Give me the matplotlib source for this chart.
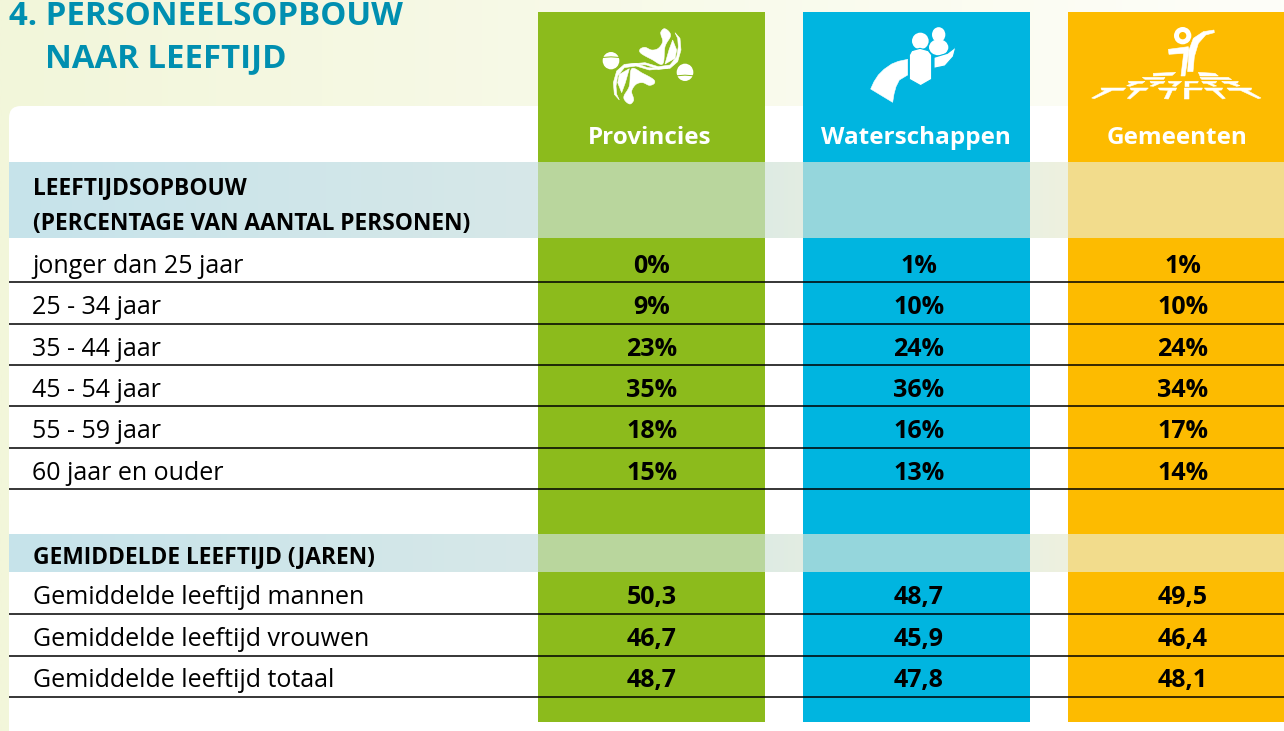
import numpy as np
import matplotlib
matplotlib.use("Agg")
import matplotlib.pyplot as plt
from matplotlib.patches import Rectangle, Polygon, Ellipse, FancyBboxPatch

title_lines = ["4. PERSONEELSOPBOUW", "NAAR LEEFTIJD"]
organisations = ["Provincies", "Waterschappen", "Gemeenten"]
section_age = ["LEEFTIJDSOPBOUW", "(PERCENTAGE VAN AANTAL PERSONEN)"]
age_groups = ["jonger dan 25 jaar", "25 - 34 jaar", "35 - 44 jaar",
              "45 - 54 jaar", "55 - 59 jaar", "60 jaar en ouder"]
provincies_pct = [0, 9, 23, 35, 18, 15]
waterschappen_pct = [1, 10, 24, 36, 16, 13]
gemeenten_pct = [1, 10, 24, 34, 17, 14]
section_mean = "GEMIDDELDE LEEFTIJD (JAREN)"
mean_labels = ["Gemiddelde leeftijd mannen", "Gemiddelde leeftijd vrouwen", "Gemiddelde leeftijd totaal"]
provincies_mean = [50.3, 46.7, 48.7]
waterschappen_mean = [48.7, 45.9, 47.8]
gemeenten_mean = [49.5, 46.4, 48.1]

FONT = "Open Sans"
GREEN, BLUE, YELLOW = "#8cbb1c", "#00b5e0", "#fdbb00"
col_colors = [GREEN, BLUE, YELLOW]
col_x = [(538, 765), (803, 1030), (1068, 1284)]
band_tint = ["#b9d69d", "#95d6dc", "#f2dc8c"]
head_cx = [649.5, 916, 1177.5]
val_cx = [652, 919, 1183]

fig = plt.figure(figsize=(12.84, 7.31), dpi=100)
ax = fig.add_axes([0, 0, 1, 1])


def gradient(x0, x1, y0, y1, c0, c1, z):
    a = np.array(matplotlib.colors.to_rgb(c0)); b = np.array(matplotlib.colors.to_rgb(c1))
    t = np.linspace(0, 1, 256)[None, :, None]
    ax.imshow(a + (b - a) * t, extent=(x0, x1, y1, y0), aspect="auto", zorder=z, interpolation="bilinear")


gradient(0, 1284, 0, 731, "#f2f6da", "#fefef9", 0)
ax.add_patch(FancyBboxPatch((9 + 12, 106 + 12), 1400, 700, boxstyle="round,pad=12,rounding_size=12",
                            fc="white", ec="none", zorder=1))

for (x0, x1), c in zip(col_x, col_colors):
    ax.add_patch(Rectangle((x0, 12), x1 - x0, 710, fc=c, ec="none", zorder=2))

for y0, y1 in [(162, 238), (534, 572)]:
    gradient(9, 538, y0, y1, "#c6e3eb", "#d7e8e8", 3)
    gradient(765, 803, y0, y1, "#deebe4", "#e3ede2", 3)
    gradient(1030, 1068, y0, y1, "#ebf0e1", "#eef1df", 3)
    for (x0, x1), c in zip(col_x, band_tint):
        ax.add_patch(Rectangle((x0, y0), x1 - x0, y1 - y0, fc=c, ec="none", zorder=3))

age_lines = [282, 323.5, 365, 406, 447.5, 489]
mean_lines = [614, 656, 697]
for y in age_lines + mean_lines:
    ax.plot([9, 1284], [y, y], color="black", lw=1.1, zorder=4, solid_capstyle="butt")

TEAL = "#008fb0"
ax.text(9, 25, title_lines[0], family=FONT, weight="bold", size=23.7, color=TEAL, zorder=6)
ax.text(45, 67, title_lines[1], family=FONT, weight="bold", size=23.7, color=TEAL, zorder=6)
for name, cx in zip(organisations, head_cx):
    ax.text(cx, 144, name, family=FONT, weight="bold", size=17.5, color="white", ha="center", zorder=6)
ax.text(33, 194, section_age[0], family=FONT, weight="bold", size=16.4, color="black", zorder=6)
ax.text(33, 230, section_age[1], family=FONT, weight="bold", size=16.4, color="black", zorder=6)
ax.text(33, 563, section_mean, family=FONT, weight="bold", size=16.4, color="black", zorder=6)

for label, y in zip(age_groups, age_lines):
    ax.text(32, y - 9, label, family=FONT, size=18, color="black", zorder=6)
for label, y in zip(mean_labels, mean_lines):
    ax.text(33, y - 10, label, family=FONT, size=18, color="black", zorder=6)
for series, cx in zip([provincies_pct, waterschappen_pct, gemeenten_pct], val_cx):
    for v, y in zip(series, age_lines):
        ax.text(cx, y - 9, f"{v}%", family=FONT, weight="bold", size=18, color="black", ha="center", zorder=6)
for series, cx in zip([provincies_mean, waterschappen_mean, gemeenten_mean], val_cx):
    for v, y in zip(series, mean_lines):
        ax.text(cx, y - 10, f"{v:.1f}".replace(".", ","), family=FONT, weight="bold", size=18,
                color="black", ha="center", zorder=6)


# decorative header icons, outlined in 3x crop coordinates
def smooth(p, n=8):
    p = np.array(p, float); out = []
    m = len(p)
    for i in range(m):
        a, b, c, d = p[i - 1], p[i], p[(i + 1) % m], p[(i + 2) % m]
        for t in np.linspace(0, 1, n, endpoint=False):
            out.append(0.5 * (2 * b + (c - a) * t + (2 * a - 5 * b + 4 * c - d) * t ** 2 + (3 * b - a - 3 * c + d) * t ** 3))
    return out


def poly(origin, p, c="white", curved=False, z=5.0, ec="white", lw=0.4):
    pts = smooth(p) if curved else p
    xy = [(origin[0] + x / 3, origin[1] + y / 3) for x, y in pts]
    ax.add_patch(Polygon(xy, closed=True, fc=c, ec=ec, lw=lw, zorder=z))


def ell(origin, x, y, w, h, c="white", z=5.0):
    ax.add_patch(Ellipse((origin[0] + x / 3, origin[1] + y / 3), w / 3, h / 3, fc=c, ec="none", zorder=z))


# Provincies
O = (595, 20)
blob = [(198, 35), (208, 26), (222, 35), (226, 50), (210, 80), (203, 132), (170, 118), (138, 100), (135, 88), (150, 82), (170, 90), (190, 85), (203, 65), (198, 45)]
leaf = [(233, 60), (245, 90), (240, 115), (210, 132), (222, 90)]
arc = [(240, 38), (255, 55), (258, 90), (248, 125), (225, 145), (190, 148), (155, 135), (120, 133), (92, 139), (95, 133), (150, 128), (190, 140), (225, 135), (245, 110), (250, 80), (248, 55)]
for shape, curved in ((blob, True), (leaf, False), (arc, False)):
    poly(O, shape, curved=curved)
    poly(O, [(313 - x, 278 - y) for x, y in shape], curved=curved)
for x, y, gy in [(48, 122, 112), (270, 157, 167)]:
    ell(O, x, y, 50, 52)
    poly(O, [(x - 26, gy - 1), (x, gy - 3), (x + 26, gy - 1), (x + 26, gy + 2), (x, gy), (x - 26, gy + 2)], c=GREEN, ec="none", lw=0, z=5.5)

# Waterschappen
O = (860, 20)
ell(O, 236, 44, 40, 45)
ell(O, 236, 82, 58, 48)
poly(O, [(222, 112), (262, 100), (288, 80), (280, 110), (255, 138), (222, 145)], ec=BLUE, lw=0.8)
ell(O, 181, 63, 50, 50, z=5.2)
poly(O, [(148, 105), (155, 92), (180, 85), (205, 92), (215, 105), (215, 178), (182, 197), (148, 178)], ec=BLUE, lw=0.8, z=5.3)
poly(O, [(143, 118), (115, 124), (95, 132), (72, 148), (55, 165), (42, 185), (32, 207), (98, 247), (102, 222), (108, 200), (118, 180), (143, 165)])

# Gemeenten
O = (1085, 20)
ell(O, 293, 47, 52, 52); ell(O, 293, 47, 22, 22, c=YELLOW, z=5.1)
poly(O, [(250, 88), (310, 80), (312, 90), (300, 168), (288, 168), (296, 100), (252, 103)])
poly(O, [(308, 155), (312, 90), (325, 55), (355, 35), (387, 30), (388, 38), (362, 45), (340, 70), (328, 110), (324, 155)])
left_bottom = [[(48, 204), (122, 204), (115, 211), (82, 211), (28, 236), (20, 234), (62, 211), (50, 210)],
               [(135, 204), (190, 204), (183, 211), (165, 211), (135, 237), (127, 235), (150, 211), (138, 210)]]
for g in left_bottom:
    poly(O, g)
    poly(O, [(548 - x, y) for x, y in g])
poly(O, [(220, 204), (275, 204), (272, 211), (262, 211), (250, 237), (238, 236), (250, 211), (224, 210)])
poly(O, [(298, 204), (352, 204), (350, 210), (312, 210), (312, 237), (298, 237)])
left_mid = [[(130, 184), (180, 184), (172, 190), (160, 190), (135, 199), (125, 197), (142, 190), (132, 189)],
            [(195, 184), (240, 184), (235, 190), (225, 190), (205, 199), (195, 198), (212, 190), (198, 189)]]
for g in left_mid:
    poly(O, g)
    poly(O, [(590 - x, y) for x, y in g])
poly(O, [(250, 184), (290, 184), (283, 190), (272, 199), (262, 198), (270, 190), (252, 189)])
poly(O, [(300, 184), (340, 184), (338, 189), (312, 189), (312, 200), (300, 200)])
for g in [[(172, 172), (240, 172), (236, 178), (180, 178)], [(205, 160), (272, 157), (262, 166), (205, 168)],
          [(340, 157), (390, 160), (400, 168), (345, 168)], [(345, 172), (430, 172), (440, 179), (350, 178)]]:
    poly(O, g)

ax.set_xlim(0, 1284); ax.set_ylim(731, 0); ax.axis("off")
fig.savefig("out.png", dpi=100)
